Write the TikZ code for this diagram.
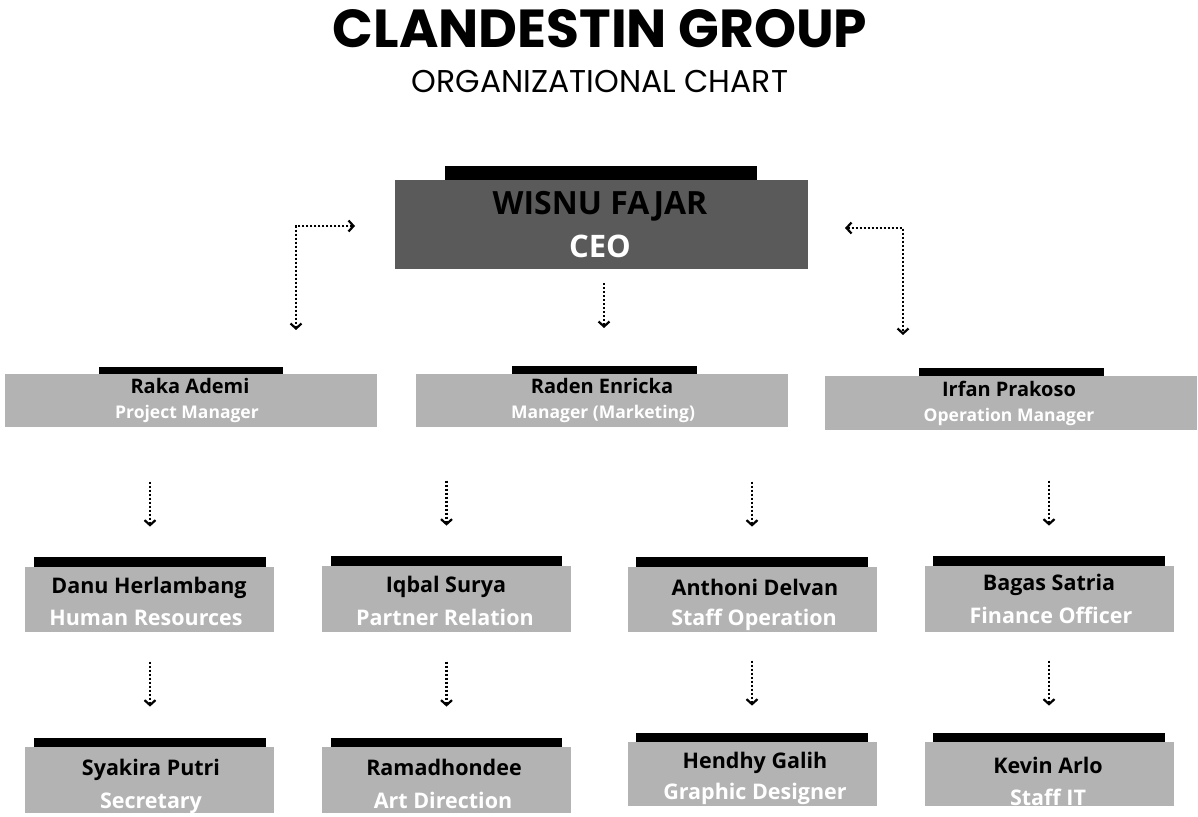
\documentclass[tikz,border=0pt]{standalone}
\usepackage{fontspec}
\setmainfont{Open Sans}
\newfontfamily\pop{Poppins}
\usetikzlibrary{arrows.meta}
\definecolor{boxgray}{HTML}{B3B3B3}
\definecolor{ceogray}{HTML}{5A5A5A}
\tikzset{
  gbox/.style={fill=boxgray, draw=none, inner sep=0pt},
  cbox/.style={fill=ceogray, draw=none, inner sep=0pt},
  topbar/.style={fill=black, draw=none, inner sep=0pt, anchor=south},
  nm/.style={anchor=base, inner sep=0pt, text=black, font=\bfseries\fontsize{21.5}{24}\selectfont},
  rl/.style={anchor=base, inner sep=0pt, text=white, font=\bfseries\fontsize{21.5}{24}\selectfont},
  nmtwo/.style={nm, font=\bfseries\fontsize{20}{22}\selectfont},
  rltwo/.style={rl, font=\bfseries\fontsize{17.5}{20}\selectfont},
  tip/.tip={Straight Barb[length=5pt,width=11pt,line width=2.2pt]},
  conn/.style={line width=2.2pt, dash pattern=on 2.2pt off 1.8pt, -tip},
  connb/.style={line width=2.2pt, dash pattern=on 2.2pt off 1.8pt, tip-tip}
}
% #1 name, #2 x1, #3 y1, #4 x2, #5 y2, #6 bar x1, #7 bar x2, #8 bar height, #9 style
\newcommand\orgbox[9]{%
  \node[#9, minimum width={(#4-#2)*1pt}, minimum height={(#5-#3)*1pt}] (#1) at ({(#2+#4)/2},{(#3+#5)/2}) {};
  \node[topbar, minimum width={(#7-#6)*1pt}, minimum height={#8*1pt}] (#1bar) at ({(#6+#7)/2},#3) {};
}
\begin{document}
\begin{tikzpicture}[x=1pt,y=-1pt]
\useasboundingbox[fill=white] (0,0) rectangle (1198,816);
% title
\node[anchor=base, inner sep=0pt, font=\pop\bfseries\fontsize{53.5}{58}\selectfont] (title) at (600,48) {CLANDESTIN GROUP};
\node[anchor=base, inner sep=0pt, font=\pop\fontsize{31.5}{34}\selectfont] (subtitle) at (600,92) {ORGANIZATIONAL CHART};
% CEO
\orgbox{ceo}{395}{180}{808}{269}{445}{757}{14}{cbox}
\node[anchor=base, inner sep=0pt, font=\bfseries\fontsize{32}{34}\selectfont, text=black] (ceon) at (600,214) {WISNU FAJAR};
\node[anchor=base, inner sep=0pt, font=\bfseries\fontsize{31}{34}\selectfont, text=white] (ceor) at (600,257) {CEO};
% level 2
\orgbox{raka}{5}{374}{377}{427}{99}{283}{7}{gbox}
\node[nmtwo] (rakan) at (190,393) {Raka Ademi};
\node[rltwo] (rakar) at (187,418) {Project Manager};
\orgbox{raden}{416}{374}{788}{427}{512}{697}{8}{gbox}
\node[nmtwo] (radenn) at (602,393) {Raden Enricka};
\node[rltwo] (radenr) at (603,418) {Manager (Marketing)};
\orgbox{irfan}{825}{376}{1197}{430}{919}{1104}{8}{gbox}
\node[nmtwo] (irfann) at (1009,396) {Irfan Prakoso};
\node[rltwo] (irfanr) at (1009,421) {Operation Manager};
% level 3
\orgbox{danu}{25}{567}{274}{632}{34}{266}{10}{gbox}
\node[nm] (danun) at (149,593) {Danu Herlambang};
\node[rl] (danur) at (146,625) {Human Resources};
\orgbox{iqbal}{322}{566}{571}{632}{331}{562}{10}{gbox}
\node[nm] (iqbaln) at (446,592) {Iqbal Surya};
\node[rl] (iqbalr) at (445,625) {Partner Relation};
\orgbox{anthoni}{628}{567}{877}{632}{636}{868}{10}{gbox}
\node[nm] (anthonin) at (755,595) {Anthoni Delvan};
\node[rl] (anthonir) at (754,625) {Staff Operation};
\orgbox{bagas}{925}{566}{1174}{632}{933}{1165}{10}{gbox}
\node[nm] (bagasn) at (1049,590) {Bagas Satria};
\node[rl] (bagasr) at (1051,623) {Finance Officer};
% level 4
\orgbox{syakira}{25}{747}{274}{813}{34}{266}{9}{gbox}
\node[nm] (syakiran) at (151,775) {Syakira Putri};
\node[rl] (syakirar) at (151,808) {Secretary};
\orgbox{rama}{322}{747}{571}{813}{331}{562}{9}{gbox}
\node[nm] (raman) at (444,775) {Ramadhondee};
\node[rl] (ramar) at (443,808) {Art Direction};
\orgbox{hendhy}{628}{742}{877}{806}{636}{868}{9}{gbox}
\node[nm] (hendhyn) at (755,768) {Hendhy Galih};
\node[rl] (hendhyr) at (755,799) {Graphic Designer};
\orgbox{kevin}{925}{742}{1174}{806}{933}{1165}{9}{gbox}
\node[nm] (kevinn) at (1048,773) {Kevin Arlo};
\node[rl] (kevinr) at (1048,805) {Staff IT};
% connectors top
\coordinate (la) at (355,226);
\coordinate (lc) at (296,226);
\coordinate (lb) at (296,330);
\draw[connb] (la) -- (lc) -- (lb);
\coordinate (ra) at (845,228);
\coordinate (rc) at (903,228);
\coordinate (rb) at (903,335);
\draw[connb] (ra) -- (rc) -- (rb);
\coordinate (ma) at (604,283);
\coordinate (mb) at (604,328);
\draw[conn] (ma) -- (mb);
% level 2 -> 3
\foreach \n in {danu,iqbal,anthoni,bagas}{
  \draw[conn, shorten >=30pt] ([yshift=75pt]\n bar.north) -- (\n bar.north);
}
% level 3 -> 4
\foreach \n in {syakira,rama}{
  \draw[conn, shorten >=31pt] ([yshift=76pt]\n bar.north) -- (\n bar.north);
}
\foreach \n in {hendhy,kevin}{
  \draw[conn, shorten >=27pt] ([yshift=72pt]\n bar.north) -- (\n bar.north);
}
\end{tikzpicture}
\end{document}
